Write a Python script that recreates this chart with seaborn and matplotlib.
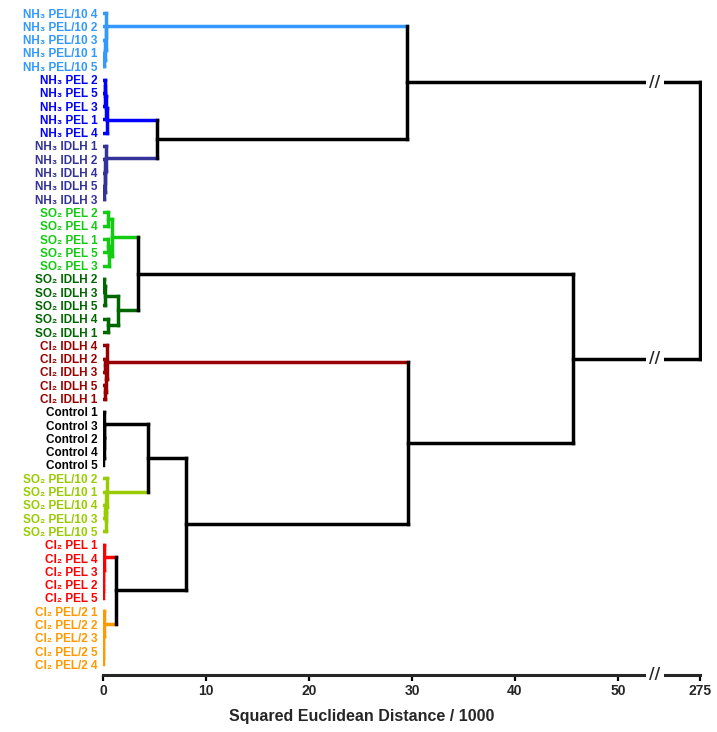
import matplotlib
matplotlib.use('Agg')
import matplotlib.pyplot as plt
import matplotlib.transforms as mtransforms
import seaborn as sns

# sample groups, top to bottom, and the replicate order inside each group
group_names = ['NH₃ PEL/10', 'NH₃ PEL', 'NH₃ IDLH', 'SO₂ PEL', 'SO₂ IDLH',
               'Cl₂ IDLH', 'Control', 'SO₂ PEL/10', 'Cl₂ PEL', 'Cl₂ PEL/2']
replicate_order = [[4, 2, 3, 1, 5], [2, 5, 3, 1, 4], [1, 2, 4, 5, 3], [2, 4, 1, 5, 3],
                   [2, 3, 5, 4, 1], [4, 2, 3, 5, 1], [1, 3, 2, 4, 5], [2, 1, 4, 3, 5],
                   [1, 4, 3, 2, 5], [1, 2, 3, 5, 4]]
group_colors = ['#3399ff', '#0000ff', '#333399', '#11cc11', '#006600',
                '#990000', '#000000', '#99cc00', '#ff0000', '#ff9900']

# merges inside each group: (left, right, distance/1000), leaves = position in group
group_trees = [
    (0, (1, (2, (3, 4, 0.10), 0.18), 0.25), 0.32),
    ((((0, 1, 0.15), 2, 0.22), 3, 0.28), 4, 0.35),
    (0, (1, (2, (3, 4, 0.10), 0.15), 0.22), 0.30),
    ((0, 1, 0.50), ((2, 3, 0.45), 4, 0.60), 0.85),
    (((0, 1, 0.10), 2, 0.20), (3, 4, 0.50), 1.50),
    (0, ((1, 2, 0.15), (3, 4, 0.20), 0.25), 0.35),
    (0, (1, (2, (3, 4, 0.03), 0.05), 0.07), 0.10),
    (0, (1, ((2, 3, 0.15), 4, 0.25), 0.30), 0.40),
    (0, (1, (2, (3, 4, 0.02), 0.03), 0.04), 0.05),
    (0, (1, (2, (3, 4, 0.02), 0.03), 0.04), 0.05),
]

# merges between groups, leaves = group index
upper_tree = (
    (0, (1, 2, 5.2), 29.5),
    ((3, 4, 3.37), (5, ((6, 7, 4.4), (8, 9, 1.26), 8.1), 29.6), 45.6),
    275.0,
)

left_max = 53.6
right_min, right_max = 270.63, 275.19

leaf_labels = []
leaf_colors = []
for name, order, col in zip(group_names, replicate_order, group_colors):
    for r in order:
        leaf_labels.append(name + ' ' + str(r))
        leaf_colors.append(col)

segments = []
broken_y = []


def walk_group(node, g):
    # returns (height, y, colour) of a node inside group g
    if isinstance(node, int):
        return 0.0, g * 5 + node, group_colors[g]
    a, b, h = node
    xa, ya, _ = walk_group(a, g)
    xb, yb, _ = walk_group(b, g)
    col = group_colors[g]
    segments.append(([xa, h], [ya, ya], col))
    segments.append(([xb, h], [yb, yb], col))
    segments.append(([h, h], [ya, yb], col))
    return h, (ya + yb) / 2, col


def walk_upper(node):
    if isinstance(node, int):
        return walk_group(group_trees[node], node)
    a, b, h = node
    xa, ya, ca = walk_upper(a)
    xb, yb, cb = walk_upper(b)
    segments.append(([xa, h], [ya, ya], ca))
    segments.append(([xb, h], [yb, yb], cb))
    segments.append(([h, h], [ya, yb], 'black'))
    if h > left_max:
        broken_y.extend([ya, yb])
    return h, (ya + yb) / 2, 'black'


walk_upper(upper_tree)

sns.set_theme(style='ticks')
plt.rcParams['font.family'] = ['Liberation Sans', 'DejaVu Sans']
plt.rcParams['font.weight'] = 'bold'

fig = plt.figure(figsize=(7.17, 7.32), dpi=100)
bottom = 1 - 675 / 732
height = (675 - 6.4) / 732
ax = fig.add_axes([103 / 717, bottom, 552 / 717, height])
ax2 = fig.add_axes([655 / 717, bottom, 47 / 717, height], sharey=ax)

for a in (ax, ax2):
    for xs, ys, col in segments:
        a.plot(xs, ys, color=col, lw=2.5, solid_capstyle='projecting')
    sns.despine(ax=a, left=True)
    a.spines['bottom'].set_linewidth(2.2)
    a.tick_params(axis='x', length=4.5, width=1.6, labelsize=10, pad=2, color='black')

ax.set_xlim(0, left_max)
ax2.set_xlim(right_min, right_max)
ax.set_ylim(49.8, -0.5)
ax2.spines['bottom'].set_bounds(right_min, 275)

ax.set_xticks([0, 10, 20, 30, 40, 50])
ax2.set_xticks([275])

ax.set_yticks(range(len(leaf_labels)))
ax.set_yticklabels(leaf_labels, fontsize=8.5, fontweight='bold')
for lbl, col in zip(ax.get_yticklabels(), leaf_colors):
    lbl.set_color(col)
ax.tick_params(axis='y', length=0, pad=4)
ax2.tick_params(axis='y', left=False, labelleft=False)

ax.set_xlabel('Squared Euclidean Distance / 1000', fontsize=11.5, fontweight='bold')
ax.xaxis.set_label_coords((362 - 103) / 552, -(709 - 675) / 668.6)

# axis break marks
trans = mtransforms.blended_transform_factory(ax.transAxes, ax.transData)
box = dict(facecolor='white', edgecolor='none', pad=2.5)
for y in broken_y:
    fig.text(1.0, y, '//', transform=trans, ha='center', va='center', fontsize=11,
             family='DejaVu Sans', fontweight='bold', bbox=box, zorder=10)
fig.text(1.0, 0.0, '//', transform=ax.transAxes, ha='center', va='center', fontsize=11,
         family='DejaVu Sans', fontweight='bold', bbox=box, zorder=10)

fig.savefig('out.png', dpi=100, facecolor='white')
